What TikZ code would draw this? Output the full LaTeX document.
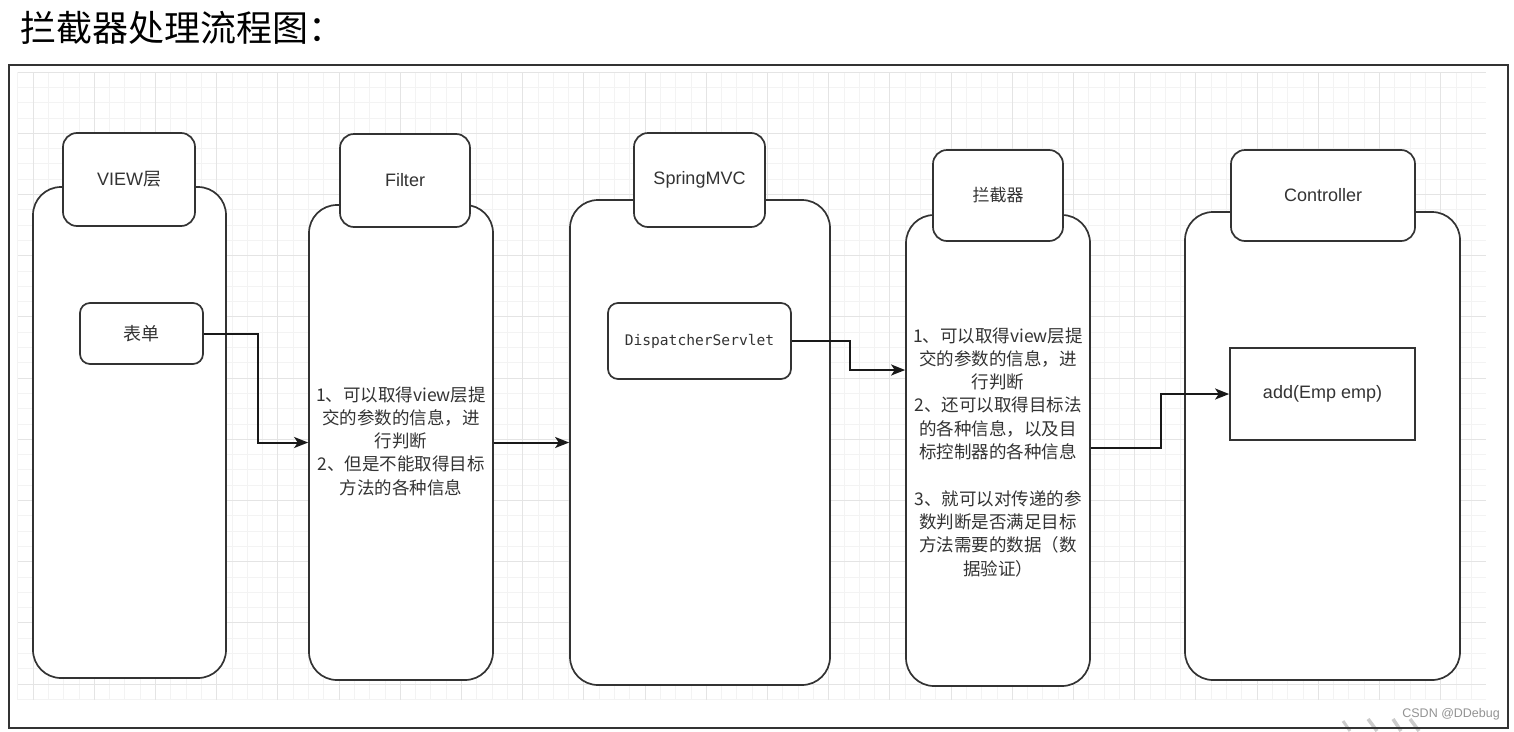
\documentclass[tikz,border=0pt]{standalone}
\usepackage{fontspec}
\setmainfont{Liberation Sans}
\newfontfamily\cjk{Noto Sans CJK SC}
\newfontfamily\monof{DejaVu Sans Mono}
\usetikzlibrary{arrows.meta}
\definecolor{ln}{HTML}{333333}
\definecolor{tx}{HTML}{333333}
\definecolor{gmin}{HTML}{F3F3F3}
\definecolor{gmaj}{HTML}{E4E4E4}
\begin{document}
\begin{tikzpicture}[x=1pt,y=-1pt,
  box/.style={draw=ln,line width=1.7pt,fill=white,inner sep=0pt,text=tx},
  bigbox/.style={box,rounded corners=28pt},
  headbox/.style={box,rounded corners=14pt,font=\fontsize{18}{22}\selectfont},
  innerbox/.style={box,rounded corners=10pt},
  para/.style={align=center,text=tx,inner sep=0pt,font=\cjk\fontsize{17.5}{23.3}\selectfont},
  conn/.style={draw=black!90,line width=2pt,-{Stealth[length=14pt,width=11pt,inset=3.5pt]}},
  gminor/.style={draw=gmin,line width=0.8pt},
  gmajor/.style={draw=gmaj,line width=1pt}
]
\useasboundingbox (0,0) rectangle (1514,731);
\fill[white] (0,0) rectangle (1514,731);
% title
\node[anchor=base west,inner sep=0pt,font=\cjk\fontsize{36}{40}\selectfont] (title) at (20,41) {拦截器处理流程图：};
% frame
\draw[ln,line width=1.3pt] (9,65) rectangle (1508,728);
% grid
\foreach \i in {0,...,95} {\draw[gminor] ({17.7+15.3*\i},72) -- ({17.7+15.3*\i},700);}
\foreach \j in {0,...,41} {\draw[gminor] (18,{72+15.3*\j}) -- (1486,{72+15.3*\j});}
\foreach \i in {0,...,23} {\draw[gmajor] ({33+61.2*\i},72) -- ({33+61.2*\i},700);}
\foreach \j in {0,...,10} {\draw[gmajor] (18,{72+61.2*\j}) -- (1486,{72+61.2*\j});}
% VIEW column
\node[bigbox,minimum width=193pt,minimum height=491pt] (vb) at (129.5,432.5) {};
\node[headbox,minimum width=132pt,minimum height=93pt] (vh) at (129,179.5) {VIEW{\cjk 层}};
\node[innerbox,minimum width=123pt,minimum height=61pt,font=\cjk\fontsize{18}{22}\selectfont] (bd) at (141.5,333.5) {表单};
% Filter column
\node[bigbox,minimum width=184pt,minimum height=475pt] (fb) at (401,442.5) {};
\node[headbox,minimum width=130pt,minimum height=93pt] (fh) at (405,180.5) {Filter};
\node[para] (ft) at (401,441) {1、可以取得view层提\\交的参数的信息，进\\行判断\\2、但是不能取得目标\\方法的各种信息};
% SpringMVC column
\node[bigbox,minimum width=260pt,minimum height=485pt] (sb) at (700,442.5) {};
\node[headbox,minimum width=131pt,minimum height=94pt] (sh) at (699.5,180) {SpringMVC};
\node[innerbox,minimum width=183pt,minimum height=76pt,font=\monof\fontsize{14.6}{18}\selectfont] (ds) at (699.5,341) {DispatcherServlet};
% Interceptor column
\node[bigbox,minimum width=184pt,minimum height=471pt] (ib) at (998,450.5) {};
\node[headbox,minimum width=130pt,minimum height=91pt,font=\cjk\fontsize{17}{22}\selectfont] (ih) at (998,195.5) {拦截器};
\node[para] (it) at (998,452) {1、可以取得view层提\\交的参数的信息，进\\行判断\\2、还可以取得目标法\\的各种信息，以及目\\标控制器的各种信息\\[23.3pt]3、就可以对传递的参\\数判断是否满足目标\\方法需要的数据（数\\据验证）};
% Controller column
\node[bigbox,minimum width=275pt,minimum height=468pt] (cb) at (1322.5,446) {};
\node[headbox,minimum width=184pt,minimum height=91pt] (ch) at (1323,195.5) {Controller};
\node[box,minimum width=185pt,minimum height=92pt,font=\fontsize{18}{22}\selectfont] (ad) at (1322.5,394) {add(Emp emp)};
% connectors
\draw[conn] (bd.east) -- ++(54,0) |- (fb.west);
\draw[conn] (fb.east) -- (sb.west);
\draw[conn] (ds.east) -- ++(58,0) |- ([yshift=80.5pt]ib.west);
\draw[conn] ([yshift=2.5pt]ib.east) -- ++(70,0) |- (ad.west);
% watermark
\draw[gray!40,line width=3pt] (1343,721) -- (1350,731);
\draw[gray!40,line width=3.5pt] (1368,719) -- (1377,731);
\draw[gray!40,line width=3.5pt] (1393,719) -- (1401,731);
\draw[gray!40,line width=3.5pt] (1410,719) -- (1419,731);
\draw[ln,line width=1.3pt] (1300,728) -- (1508,728);
\node[anchor=east,inner sep=0pt,text=gray!85,font=\fontsize{12.5}{14}\selectfont] (wm) at (1500,714) {CSDN @DDebug};
\end{tikzpicture}
\end{document}
